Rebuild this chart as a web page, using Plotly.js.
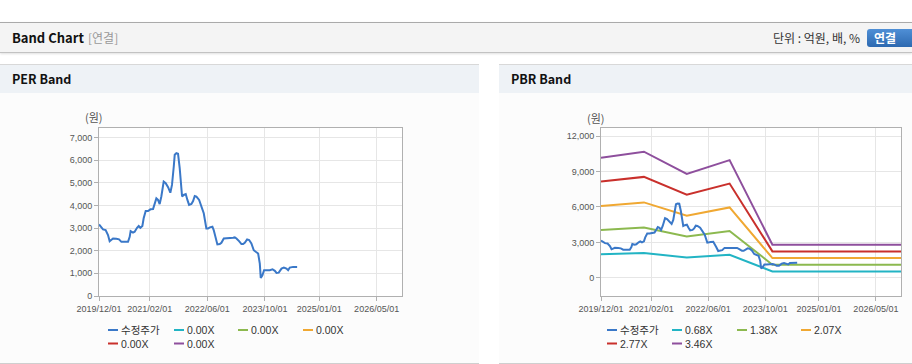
<!DOCTYPE html>
<html><head><meta charset="utf-8">
<script src="https://cdn.plot.ly/plotly-3.0.1.min.js"></script>
<style>
html,body{margin:0;padding:0;background:#fff;width:912px;height:364px;overflow:hidden;font-family:"Noto Sans CJK KR","Noto Sans",sans-serif;}
.abs{position:absolute;}
#hdr{left:0;top:22px;width:912px;height:29px;border-top:1px solid #aaa;border-bottom:1px solid #c2c2c2;background:#f4f4f4;box-shadow:0 1px 2px rgba(0,0,0,0.12);}
#hdrTitle{left:12px;top:0;line-height:29px;font-size:13px;font-weight:bold;color:#111;}
#hdrSub{left:88px;top:0;line-height:29px;font-size:12px;color:#999;}
#unit{right:52px;top:0;line-height:29px;font-size:12px;color:#333;}
#btn{left:867px;top:6px;width:48px;height:18px;border-radius:3px;background:linear-gradient(#4f8fd6,#2d69b0);color:#fff;font-size:12px;font-weight:bold;line-height:18px;text-indent:7px;}
.panel{top:64px;height:298px;border-top:1px solid #d8d8d8;border-bottom:1px solid #cfcfcf;background:#fcfcfc;}
.phead{left:0;top:0;right:0;height:28px;background:#eef2f6;}
.ptitle{left:12px;top:0;line-height:28px;font-size:12.5px;font-weight:bold;color:#111;}
</style></head>
<body>
<div id="hdr" class="abs">
  <div id="hdrTitle" class="abs">Band Chart</div>
  <div id="hdrSub" class="abs">[연결]</div>
  <div id="unit" class="abs">단위 : 억원, 배, %</div>
</div>
<div id="btn" class="abs" style="top:29px;">연결</div>
<div class="abs panel" style="left:0;width:479px;"><div class="abs phead"><div class="abs ptitle">PER Band</div></div></div>
<div class="abs panel" style="left:499px;width:413px;"><div class="abs phead"><div class="abs ptitle">PBR Band</div></div></div>
<div id="per" class="abs" style="left:0;top:93px;width:479px;height:269px;"></div>
<div id="pbr" class="abs" style="left:499px;top:93px;width:413px;height:269px;"></div>
<script>
// ---------- data ----------
const priceName = '수정주가';
const priceDates = ['2019-12-01','2019-12-21','2020-01-04','2020-01-26','2020-02-15','2020-02-29','2020-03-14','2020-03-28','2020-04-25','2020-05-18','2020-06-07','2020-07-05','2020-08-02','2020-08-16','2020-08-24','2020-09-13','2020-09-27','2020-10-17','2020-10-31','2020-11-14','2020-12-01','2020-12-12','2020-12-29','2021-01-18','2021-02-07','2021-03-01','2021-03-15','2021-03-29','2021-04-12','2021-04-26','2021-05-10','2021-05-30','2021-06-16','2021-07-06','2021-07-25','2021-08-08','2021-08-23','2021-08-31','2021-09-14','2021-09-28','2021-10-12','2021-10-21','2021-11-01','2021-11-15','2021-12-02','2021-12-16','2021-12-30','2022-01-19','2022-02-02','2022-02-16','2022-03-02','2022-03-25','2022-04-13','2022-05-03','2022-05-25','2022-06-08','2022-06-23','2022-07-15','2022-07-26','2022-08-09','2022-08-26','2022-09-15','2022-09-29','2022-10-19','2022-11-10','2022-12-08','2023-01-06','2023-01-20','2023-02-03','2023-02-25','2023-03-17','2023-03-31','2023-04-14','2023-05-04','2023-05-21','2023-06-09','2023-06-29','2023-07-16','2023-08-05','2023-08-19','2023-08-27','2023-09-10','2023-09-24','2023-10-14','2023-11-11','2023-12-04','2023-12-24','2024-01-07','2024-01-26','2024-02-18','2024-03-09','2024-03-31','2024-04-14','2024-04-28','2024-05-26','2024-06-29'];
const priceValues = [3160,3010,2940,2910,2690,2420,2470,2540,2525,2500,2390,2390,2390,2610,2865,2800,2840,3010,3090,3010,3090,3430,3750,3750,3825,3840,4060,4310,4240,4060,4390,5050,4980,4800,4560,4900,5715,6230,6300,6280,5640,5125,4390,4460,4500,4240,4020,4060,4190,4415,4390,4240,3970,3650,2980,2980,3030,3060,2910,2610,2275,2290,2350,2540,2540,2540,2570,2585,2540,2420,2290,2290,2350,2500,2470,2320,2020,1950,1875,1430,800,915,1140,1140,1140,1180,1110,1020,1030,1210,1255,1210,1140,1255,1285,1285];

const perBandNames = ['0.00X','0.00X','0.00X','0.00X','0.00X'];

const pbrBandNames = ['0.68X','1.38X','2.07X','2.77X','3.46X'];
const bandDates = ['2019-12-01','2020-12-01','2021-12-01','2022-12-01','2023-12-01','2024-12-01','2025-12-01','2026-12-01'];
const pbr068 = [1999,2098,1727,1958,551,551,551,551];
const pbr138 = [4057,4257,3505,3974,1118,1118,1118,1118];
const pbr207 = [6086,6386,5258,5962,1677,1677,1677,1677];
const pbr277 = [8144,8545,7036,7978,2244,2244,2244,2244];
const pbr346 = [10172,10674,8788,9965,2803,2803,2803,2803];
const pbrBands = [pbr068,pbr138,pbr207,pbr277,pbr346];

const xTickVals = ['2019-12-01','2021-02-01','2022-06-01','2023-10-01','2025-01-01','2026-05-01'];
const xTickText = ['2019/12/01','2021/02/01','2022/06/01','2023/10/01','2025/01/01','2026/05/01'];
const yUnit = '(원)';

// ---------- styles ----------
const priceColor = '#3a78c8';
const bandColors = ['#22b4c4','#8cb94f','#f0a832','#c9302c','#8e4f9d'];
const tickFont = {family:'"Liberation Sans", Arial, sans-serif', size:9, color:'#555'};
const legFont = {family:'"Liberation Sans","Noto Sans CJK KR", sans-serif', size:10.5, color:'#333'};

function xaxis(){
  return {type:'date', range:['2019-12-01','2026-12-01'], tickmode:'array', tickvals:xTickVals, ticktext:xTickText,
    showgrid:true, gridcolor:'#e6e6e6', gridwidth:1, showline:true, linecolor:'#b0b0b0', linewidth:1, mirror:true,
    ticks:'outside', ticklen:4, tickcolor:'#b0b0b0', tickfont:tickFont, zeroline:false, fixedrange:true};
}
function yaxis(range, dtick){
  return {range:range, tickmode:'linear', tick0:0, dtick:dtick, tickformat:',d',
    showgrid:true, gridcolor:'#e6e6e6', gridwidth:1, showline:true, linecolor:'#b0b0b0', linewidth:1, mirror:true,
    ticks:'outside', ticklen:4, tickcolor:'#b0b0b0', tickfont:tickFont, zeroline:false, fixedrange:true};
}
function legendParts(names, colors, cols, rows){
  const shapes=[], annos=[];
  names.forEach((n,i)=>{
    const cx = cols[i%4], cy = rows[Math.floor(i/4)];
    shapes.push({type:'line', xref:'paper', yref:'paper', xsizemode:'pixel', ysizemode:'pixel',
      xanchor:0, yanchor:0, x0:cx, x1:cx+10, y0:cy, y1:cy, line:{color:colors[i], width:2}});
    annos.push({xref:'paper', yref:'paper', x:0, y:0, xanchor:'left', yanchor:'middle', xshift:cx+11, yshift:cy,
      text:n, showarrow:false, font:legFont});
  });
  return {shapes, annos};
}
function unitAnno(dx, dy){
  return {xref:'paper', yref:'paper', x:0, y:1, xanchor:'center', yanchor:'middle', xshift:dx, yshift:dy,
    text:yUnit, showarrow:false, font:{family:'"Noto Sans CJK KR", sans-serif', size:11, color:'#555'}};
}
const cfg = {displayModeBar:false, staticPlot:true};

// ---------- PER ----------
const perTraces = perBandNames.map((n,i)=>({x:[], y:[], type:'scatter', mode:'lines', name:n, line:{color:bandColors[i], width:2}, showlegend:false}));
perTraces.push({x:priceDates, y:priceValues, type:'scatter', mode:'lines', name:priceName, line:{color:priceColor, width:2}, showlegend:false});
const perLeg = legendParts([priceName].concat(perBandNames), [priceColor].concat(bandColors), [9,75,139,204], [-34,-47.5]);
Plotly.newPlot('per', perTraces, {
  width:479, height:269, margin:{l:99, r:77, t:35, b:66},
  paper_bgcolor:'rgba(0,0,0,0)', plot_bgcolor:'#ffffff', showlegend:false,
  xaxis:xaxis(), yaxis:yaxis([0,7414],1000),
  shapes:perLeg.shapes, annotations:perLeg.annos.concat([unitAnno(-5,11)])
}, cfg);

// ---------- PBR ----------
const pbrTraces = pbrBands.map((b,i)=>({x:bandDates, y:b, type:'scatter', mode:'lines', name:pbrBandNames[i], line:{color:bandColors[i], width:2}, showlegend:false}));
pbrTraces.push({x:priceDates, y:priceValues, type:'scatter', mode:'lines', name:priceName, line:{color:priceColor, width:2}, showlegend:false});
const pbrLeg = legendParts([priceName].concat(pbrBandNames), [priceColor].concat(bandColors), [6,71,136,200], [-34,-47.5]);
Plotly.newPlot('pbr', pbrTraces, {
  width:413, height:269, margin:{l:102, r:11, t:35, b:66},
  paper_bgcolor:'rgba(0,0,0,0)', plot_bgcolor:'#ffffff', showlegend:false,
  xaxis:xaxis(), yaxis:yaxis([-1530,12680],3000),
  shapes:pbrLeg.shapes, annotations:pbrLeg.annos.concat([unitAnno(-5,10)])
}, cfg);
</script>
</body></html>
